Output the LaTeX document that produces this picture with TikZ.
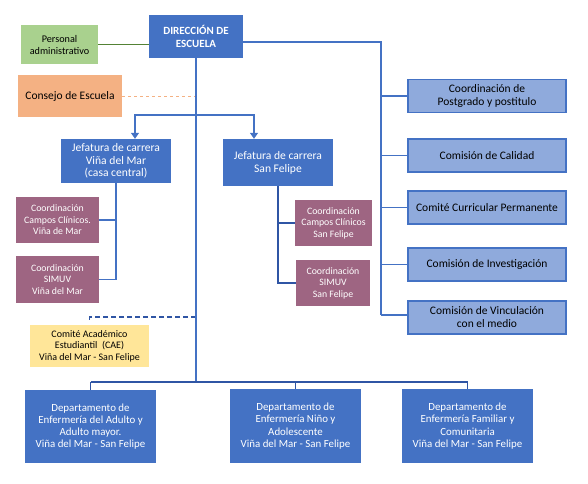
\documentclass[tikz,border=0pt]{standalone}
\usepackage{fontspec}
\setmainfont{Carlito}
\usetikzlibrary{arrows.meta}
\definecolor{azul}{HTML}{4472C4}
\definecolor{azulclaro}{HTML}{8FAADC}
\definecolor{azuloscuro}{HTML}{2F55A4}
\definecolor{malva}{HTML}{9E6582}
\definecolor{verde}{HTML}{A9D18E}
\definecolor{verdeosc}{HTML}{548235}
\definecolor{naranja}{HTML}{F4B183}
\definecolor{amarillo}{HTML}{FFE699}
\begin{document}
\begin{tikzpicture}[x=1pt,y=-1pt,
     caja/.style={rectangle,align=center,inner sep=1pt},
     jefe/.style={caja,fill=azul,text=white},
     coord/.style={caja,fill=malva,text=white,font=\fontsize{9.8}{11.5}\selectfont},
     comision/.style={caja,fill=azulclaro,draw=azul,line width=1.3pt,minimum width=158pt,minimum height=33pt,font=\fontsize{11.5}{13}\selectfont},
     depto/.style={jefe,minimum width=131pt,minimum height=74pt,font=\fontsize{10.9}{12.2}\selectfont},
     linea/.style={azul,line width=1.3pt},
     flecha/.style={linea,-{Triangle[width=8pt,length=6pt]}}
     ]
\useasboundingbox (0,0) rectangle (588,483);

%Positions of the buses
\def \xmain{196}
\def \xright{381}
\def \ybus{382}

%Top of the chart
\node[jefe,minimum width=94pt,minimum height=43pt,font=\fontsize{11}{13.5}\selectfont\bfseries] (dir) at (\xmain,36.5) {DIRECCIÓN DE\\ESCUELA};
\node[caja,fill=verde,minimum width=77pt,minimum height=39pt,font=\fontsize{10.2}{12}\selectfont] (pers) at (59.5,44.5) {Personal\\administrativo};
\node[caja,fill=naranja,minimum width=104pt,minimum height=42pt,font=\fontsize{11.5}{13}\selectfont] (consejo) at (70,96) {Consejo de Escuela};

\draw[verdeosc,line width=1.3pt] (pers.east) -- (pers.east -| dir.west);
\draw[naranja,line width=1pt,dashed] (consejo.east) -- (consejo.east -| dir.south);

%Jefaturas and their coordinations
\node[jefe,minimum width=110pt,minimum height=44pt,font=\fontsize{11.6}{12.6}\selectfont] (jefvm) at (116,161) {Jefatura de carrera\\Viña del Mar\\(casa central)};
\node[jefe,minimum width=110pt,minimum height=47pt,font=\fontsize{11.6}{13}\selectfont] (jefsf) at (278,162.5) {Jefatura de carrera\\San Felipe};

\node[coord,minimum width=83pt,minimum height=46pt] (cvm1) at (57.5,220) {Coordinación\\Campos Clínicos.\\Viña de Mar};
\node[coord,minimum width=83pt,minimum height=47pt] (cvm2) at (57.5,279.5) {Coordinación\\SIMUV\\Viña del Mar};
\node[coord,minimum width=77pt,minimum height=46pt] (csf1) at (333.5,223) {Coordinación\\Campos Clínicos\\San Felipe};
\node[coord,minimum width=74pt,minimum height=46pt] (csf2) at (333,283) {Coordinación\\SIMUV\\San Felipe};

\coordinate (jbr) at (\xmain,115);
\draw[flecha] (jbr) -| ([xshift=19pt]jefvm.north);
\draw[flecha] (jbr) -| ([xshift=-24pt]jefsf.north);

\draw[linea] (jefvm.south) |- (cvm2.east);
\draw[linea] (jefvm.south |- cvm1.east) -- (cvm1.east);
\draw[azuloscuro,line width=1.3pt] (jefsf.south) |- (csf2.west);
\draw[azuloscuro,line width=1.3pt] (jefsf.south |- csf1.west) -- (csf1.west);

%Comisiones on the right side
\foreach [count=\i] \nombre/\y/\texto in {post/96/{Coordinación de\\Postgrado y postitulo},
        cal/155.5/{Comisión de Calidad},
        cur/207.5/{Comité Curricular Permanente},
        inv/264.5/{Comisión de Investigación},
        vin/317.5/{Comisión de Vinculación\\con el medio}}
   {
\node[comision] (\nombre) at (487,\y) {\texto};
   }
\coordinate (rtop) at (\xright,42);
\coordinate (rbot) at (\xright,315);
\draw[linea] (rtop -| dir.east) -- (rtop) -- (rbot);
\foreach \nombre in {post,cal,cur,inv}
\draw[linea] (rtop |- \nombre.west) -- (\nombre.west);
\draw[linea] (rbot) -- (rbot -| vin.west);

%Comite estudiantil
\node[caja,fill=amarillo,minimum width=119pt,minimum height=42pt,font=\fontsize{10}{11.5}\selectfont] (cae) at (89.5,346) {Comité Académico\\Estudiantil~~(CAE)\\Viña del Mar - San Felipe};
\coordinate (cae0) at (\xmain,317);
\draw[azuloscuro,line width=1.3pt,dash pattern=on 5pt off 3pt] (cae0) -| ([yshift=3pt]cae.north);

%Departamentos at the bottom
\node[depto,minimum height=73pt] (d1) at (90.5,426.5) {Departamento de\\Enfermería del Adulto y\\Adulto mayor.\\Viña del Mar - San Felipe};
\node[depto] (d2) at (295.5,426) {Departamento de\\Enfermería Niño y\\Adolescente\\Viña del Mar - San Felipe};
\node[depto] (d3) at (467.5,426) {Departamento de\\Enfermería Familiar y\\Comunitaria\\Viña del Mar - San Felipe};

\coordinate (bus) at (\xmain,\ybus);
\draw[linea] (dir.south) -- (bus);
\draw[azuloscuro,line width=1.3pt] (d1.north |- bus) -- (d3.north |- bus);
\foreach \d in {d1,d2,d3}
\draw[azuloscuro,line width=1.3pt] (\d.north |- bus) -- (\d.north);
\end{tikzpicture}
\end{document}
